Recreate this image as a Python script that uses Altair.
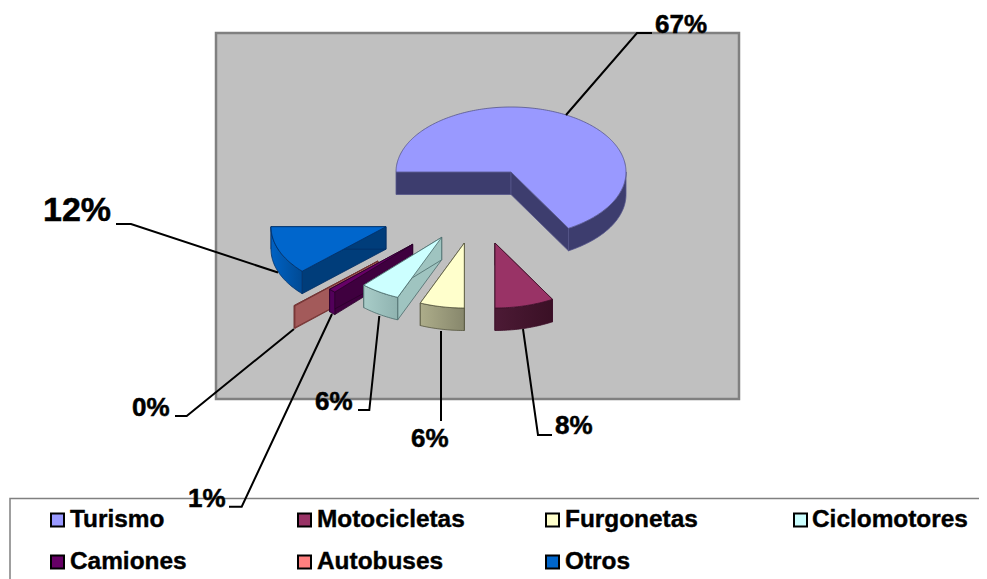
import math
import altair as alt
import pandas as pd

# --- values ---
categories = ["Turismo", "Motocicletas", "Furgonetas", "Ciclomotores", "Camiones", "Autobuses", "Otros"]
shares = [66.67, 8.33, 6.25, 5.6, 1.0, 0.15, 12.0]
pct_labels = ["67%", "8%", "6%", "6%", "1%", "0%", "12%"]

# --- styles ---
top_colors = ["#9999FF", "#993366", "#FFFFCC", "#CCFFFF", "#660066", "#A35A5A", "#0066CC"]
legend_colors = ["#9999FF", "#993366", "#FFFFCC", "#CCFFFF", "#660066", "#FF8080", "#0066CC"]
radial_colors = ["#3D3D6E", "#3D1029", "#7F7F66", "#9FC4C0", "#3F003F", "#A35A5A", "#003D7A"]
arc_stops = [
    ("#3D3D6E", "#3D3D6E"), ("#4C1A35", "#3A1025"), ("#ADAD8A", "#87876C"),
    ("#A8CCC8", "#8FB3B0"), ("#52005A", "#52005A"), ("#A35A5A", "#A35A5A"), ("#0062C4", "#004A94"),
]
edge_colors = ["#55558A", "#3D1029", "#55553F", "#4A6A6A", "#2A002A", "#6E3030", "#002F66"]

# --- layout (page pixels) ---
apex = [(511, 172), (495, 243), (464.3, 243), (441.7, 237.3), (412.7, 244.3), (378, 261), (386, 226.7)]
RX, RY, DEPTH = 115, 65, 22.5
PAINT_ORDER = [0, 6, 5, 4, 3, 2, 1]
W, H = 971, 571
x_scale = alt.Scale(domain=[8, 8 + W], nice=False, zero=False)
y_scale = alt.Scale(domain=[8 + H, 8], nice=False, zero=False)


def poly(points, **mark):
    df = pd.DataFrame({"x": [p[0] for p in points], "y": [p[1] for p in points], "i": range(len(points))})
    return alt.Chart(df).mark_line(interpolate="linear-closed", **mark).encode(
        x=alt.X("x:Q", scale=x_scale, axis=None),
        y=alt.Y("y:Q", scale=y_scale, axis=None),
        order=alt.Order("i:Q"),
    )


def path(points, color="#000000", width=2.0):
    df = pd.DataFrame({"x": [p[0] for p in points], "y": [p[1] for p in points], "i": range(len(points))})
    return alt.Chart(df).mark_line(color=color, strokeWidth=width).encode(
        x=alt.X("x:Q", scale=x_scale, axis=None),
        y=alt.Y("y:Q", scale=y_scale, axis=None),
        order=alt.Order("i:Q"),
    )


def pt(c, t):
    return (c[0] + RX * math.cos(t), c[1] - RY * math.sin(t))


layers = []

# plot frame
layers.append(poly([(216, 33), (739, 33), (739, 399), (216, 399)],
                   fill="#C0C0C0", stroke="#808080", strokeWidth=2.5))

# slice angles: clockwise from the left side of the ellipse
angles = []
a = 180.0
for s in shares:
    b = a - s * 3.6
    angles.append((a, b))
    a = b

for idx in PAINT_ORDER:
    c = apex[idx]
    t0, t1 = angles[idx]
    n = max(2, int(abs(t0 - t1)))
    ts = [t0 + (t1 - t0) * k / n for k in range(n + 1)]
    arc = [pt(c, math.radians(t)) for t in ts]
    edge = edge_colors[idx]
    # radial walls
    for end in (arc[0], arc[-1]):
        layers.append(poly([c, end, (end[0], end[1] + DEPTH), (c[0], c[1] + DEPTH)],
                           fill=radial_colors[idx], stroke=edge, strokeWidth=0.8))
    # outer wall on the front half of the rim
    front = [t for t in ts if -180 <= t <= 0]
    if len(front) > 1:
        rim = [pt(c, math.radians(t)) for t in front]
        wall = rim + [(p[0], p[1] + DEPTH) for p in reversed(rim)]
        grad = alt.Gradient(gradient="linear", x1=0, x2=1, y1=0, y2=0, stops=[
            alt.GradientStop(color=arc_stops[idx][0], offset=0),
            alt.GradientStop(color=arc_stops[idx][1], offset=1)])
        layers.append(poly(wall, fill=grad, stroke=edge, strokeWidth=0.8))
    # top face
    layers.append(poly([c] + arc, fill=top_colors[idx], stroke=edge, strokeWidth=0.8))

# leader lines
leaders = [
    [(566, 115), (637, 33), (652, 33)],
    [(523, 329), (538, 435), (552, 435)],
    [(441, 331), (441, 421)],
    [(379.3, 316), (369.3, 410), (358, 410)],
    [(332, 314), (241.7, 506.7), (229, 506.7)],
    [(294, 329), (186.7, 416), (175, 416)],
    [(278, 272.5), (131, 224), (116, 224)],
]
# legend box
layers.append(path([(10, 579), (10, 498.5), (987, 498.5)], color="#808080", width=1.5))
for pts in leaders:
    layers.append(path(pts))

# percentage labels
label_x = [655, 555, 411, 315, 188, 132, 43]
label_y = [25, 426, 439, 402, 499, 408, 211]
for i, lab in enumerate(pct_labels):
    size = 34 if lab == "12%" else 26
    layers.append(
        alt.Chart(pd.DataFrame({"x": [label_x[i]], "y": [label_y[i]], "t": [lab]}))
        .mark_text(align="left", baseline="middle", font="Liberation Sans", fontWeight="bold", fontSize=size,
                   color="#000000", stroke="#000000", strokeWidth=0.5)
        .encode(x=alt.X("x:Q", scale=x_scale, axis=None), y=alt.Y("y:Q", scale=y_scale, axis=None), text="t:N")
    )

# legend
swatch_x = [51, 298, 546, 794, 51, 298, 546]
text_x = [70, 317, 565, 812, 70, 317, 565]
row_y = [520, 520, 520, 520, 562, 562, 562]
for i, cat in enumerate(categories):
    x0, yc = swatch_x[i], row_y[i]
    layers.append(poly([(x0, yc - 6.5), (x0 + 13, yc - 6.5), (x0 + 13, yc + 6.5), (x0, yc + 6.5)],
                       fill=legend_colors[i], stroke="#000000", strokeWidth=2))
    layers.append(
        alt.Chart(pd.DataFrame({"x": [text_x[i]], "y": [yc], "t": [cat]}))
        .mark_text(align="left", baseline="middle", font="Liberation Sans", fontWeight="bold", fontSize=24.4,
                   color="#000000", stroke="#000000", strokeWidth=0.4)
        .encode(x=alt.X("x:Q", scale=x_scale, axis=None), y=alt.Y("y:Q", scale=y_scale, axis=None), text="t:N")
    )

chart = (
    alt.layer(*layers)
    .properties(width=W, height=H, padding=0, autosize=alt.AutoSizeParams(type="none"), background="#FFFFFF")
    .configure_view(stroke=None)
)

chart.save("out.html", embed_options={"renderer": "svg", "actions": False})
